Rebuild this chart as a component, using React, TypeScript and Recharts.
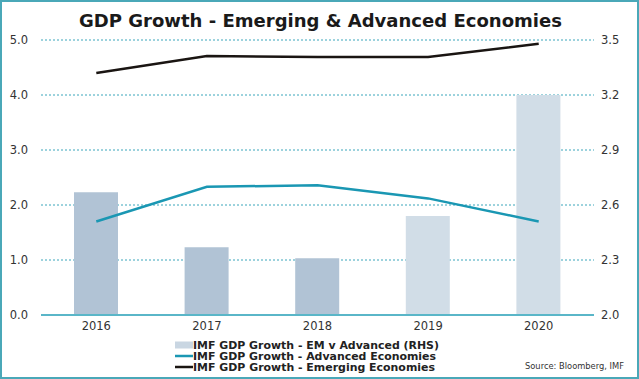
import React from "react";
import {
  ComposedChart,
  Bar,
  Line,
  XAxis,
  YAxis,
  CartesianGrid,
  Cell,
} from "recharts";

const years = ["2016", "2017", "2018", "2019", "2020"];
const emVsAdvanced = [2.67, 2.37, 2.31, 2.54, 3.2];
const advanced = [1.7, 2.33, 2.36, 2.12, 1.7];
const emerging = [4.4, 4.71, 4.69, 4.69, 4.93];
const leftTicks = [0, 1, 2, 3, 4, 5];
const rightTicks = [2.0, 2.3, 2.6, 2.9, 3.2, 3.5];
const barColors = ["#b1c3d5", "#b1c3d5", "#b1c3d5", "#d1dde7", "#d1dde7"];

const data = years.map((y, i) => ({
  year: y,
  diff: emVsAdvanced[i],
  adv: advanced[i],
  em: emerging[i],
}));

const FONT = "'DejaVu Sans', Verdana, sans-serif";
const TEAL = "#1a97b3";

const legendItems = [
  { label: "IMF GDP Growth - EM v Advanced (RHS)", type: "bar", color: "#c9d6e2", len: 246 },
  { label: "IMF GDP Growth - Advanced Economies", type: "line", color: TEAL, len: 243 },
  { label: "IMF GDP Growth - Emerging Economies", type: "line", color: "#1a1512", len: 242 },
];

export default function App() {
  return (
    <div
      style={{
        position: "absolute",
        top: 0,
        left: 0,
        width: 639,
        height: 379,
        background: "#fff",
        boxSizing: "border-box",
        border: "2px solid #4aa8b8",
        overflow: "hidden",
      }}
    >
      <div style={{ position: "absolute", top: -2, left: -2 }}>
        <ComposedChart
          width={639}
          height={379}
          data={data}
          margin={{ top: 40, right: 0, bottom: 44, left: 0 }}
          barCategoryGap={0}
        >
          <CartesianGrid
            yAxisId="left"
            vertical={false}
            stroke="#3aa6bb"
            strokeDasharray="2 2"
            horizontalValues={[1, 2, 3, 4, 5]}
          />
          <XAxis
            dataKey="year"
            height={20}
            axisLine={{ stroke: "#5ab6c8", strokeWidth: 2 }}
            tickLine={false}
            tickSize={0}
            tickMargin={7}
            tick={{ fontFamily: FONT, fontSize: 11.5, fill: "#333" }}
            interval={0}
          />
          <YAxis
            yAxisId="left"
            width={41}
            domain={[0, 5]}
            ticks={leftTicks}
            tickFormatter={(v: number) => v.toFixed(1)}
            axisLine={false}
            tickLine={false}
            tickSize={0}
            tickMargin={13}
            tick={{ fontFamily: FONT, fontSize: 11.5, fill: "#333" }}
            interval={0}
          />
          <YAxis
            yAxisId="right"
            orientation="right"
            width={45}
            domain={[2, 3.5]}
            ticks={rightTicks}
            tickFormatter={(v: number) => v.toFixed(1)}
            axisLine={false}
            tickLine={false}
            tickSize={0}
            tickMargin={7}
            tick={{ fontFamily: FONT, fontSize: 11.5, fill: "#333" }}
            interval={0}
          />
          <Bar yAxisId="right" dataKey="diff" barSize={44} isAnimationActive={false}>
            {data.map((d, i) => (
              <Cell key={d.year} fill={barColors[i]} />
            ))}
          </Bar>
          <Line
            yAxisId="left"
            dataKey="adv"
            stroke={TEAL}
            strokeWidth={2.5}
            dot={false}
            isAnimationActive={false}
          />
          <Line
            yAxisId="left"
            dataKey="em"
            stroke="#1a1512"
            strokeWidth={2.5}
            dot={false}
            isAnimationActive={false}
          />
        </ComposedChart>
      </div>
      <svg
        width={639}
        height={379}
        style={{ position: "absolute", top: -2, left: -2, pointerEvents: "none" }}
      >
        <text
          x={79}
          y={26.5}
          textLength={483}
          lengthAdjust="spacingAndGlyphs"
          fontFamily={FONT}
          fontWeight="bold"
          fontSize={17}
          fill="#1a1a1a"
        >
          GDP Growth - Emerging &amp; Advanced Economies
        </text>
        {legendItems.map((it, i) => {
          const cy = 345 + i * 11;
          return (
            <g key={it.label}>
              {it.type === "bar" ? (
                <rect x={175} y={cy - 3.5} width={18} height={7} fill={it.color} />
              ) : (
                <line x1={175} x2={193} y1={cy} y2={cy} stroke={it.color} strokeWidth={2.5} />
              )}
              <text
                x={193}
                y={cy + 4}
                textLength={it.len}
                lengthAdjust="spacingAndGlyphs"
                fontFamily={FONT}
                fontWeight="bold"
                fontSize={10.5}
                fill="#222"
              >
                {it.label}
              </text>
            </g>
          );
        })}
        <text
          x={525}
          y={369}
          textLength={99}
          lengthAdjust="spacingAndGlyphs"
          fontFamily={FONT}
          fontSize={8.5}
          fill="#333"
        >
          Source: Bloomberg, IMF
        </text>
      </svg>
    </div>
  );
}
